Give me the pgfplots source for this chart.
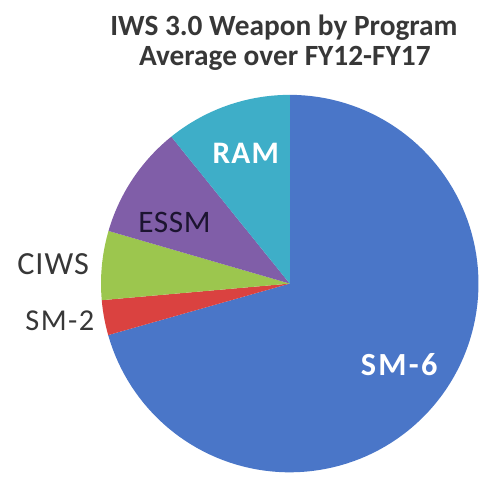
\documentclass[border=0pt]{standalone}
\usepackage{fontspec}
\setmainfont{Carlito}
\usepackage{pgfplots}
\usepackage{pgfplotstable}
\pgfplotsset{compat=1.18}

\definecolor{csmsix}{RGB}{74,118,200}
\definecolor{csmtwo}{RGB}{218,66,64}
\definecolor{cciws}{RGB}{156,198,78}
\definecolor{cessm}{RGB}{128,94,168}
\definecolor{cram}{RGB}{62,174,200}
\definecolor{ctitle}{RGB}{55,55,55}

\pgfplotstableread{
program share
SM-6 70.6
SM-2 3.0
CIWS 5.9
ESSM 9.7
RAM 10.8
}\piedata

\begin{document}
\pgfplotstablegetelem{0}{share}\of\piedata\pgfmathsetmacro\bA{90-3.6*\pgfplotsretval}
\pgfplotstablegetelem{1}{share}\of\piedata\pgfmathsetmacro\bB{\bA-3.6*\pgfplotsretval}
\pgfplotstablegetelem{2}{share}\of\piedata\pgfmathsetmacro\bC{\bB-3.6*\pgfplotsretval}
\pgfplotstablegetelem{3}{share}\of\piedata\pgfmathsetmacro\bD{\bC-3.6*\pgfplotsretval}
\pgfplotstablegetelem{4}{share}\of\piedata\pgfmathsetmacro\bE{\bD-3.6*\pgfplotsretval}
\begin{tikzpicture}
\path (0pt,0pt) rectangle (500pt,490pt);
\node[font=\fontsize{30}{32}\selectfont\bfseries, text=ctitle] at (279pt,462pt) {IWS 3.0 Weapon by Program};
\node[font=\fontsize{30}{32}\selectfont\bfseries, text=ctitle] at (280pt,430pt) {Average over FY12-FY17};
\begin{axis}[
  at={(285pt,200pt)}, anchor=center,
  scale only axis, width=386pt, height=386pt,
  xmin=-1, xmax=1, ymin=-1, ymax=1,
  hide axis, clip=false,
]
\addplot[fill=csmsix, draw=none, domain=\bA:90, samples=120, variable=\t] ({cos(\t)},{sin(\t)}) -- (axis cs:0,0) -- cycle;
\addplot[fill=csmtwo, draw=none, domain=\bB:\bA, samples=20, variable=\t] ({cos(\t)},{sin(\t)}) -- (axis cs:0,0) -- cycle;
\addplot[fill=cciws, draw=none, domain=\bC:\bB, samples=30, variable=\t] ({cos(\t)},{sin(\t)}) -- (axis cs:0,0) -- cycle;
\addplot[fill=cessm, draw=none, domain=\bD:\bC, samples=40, variable=\t] ({cos(\t)},{sin(\t)}) -- (axis cs:0,0) -- cycle;
\addplot[fill=cram, draw=none, domain=\bE:\bD, samples=40, variable=\t] ({cos(\t)},{sin(\t)}) -- (axis cs:0,0) -- cycle;

\node[font=\fontsize{32}{34}\selectfont\bfseries\addfontfeature{LetterSpace=4}, text=white] at (axis cs:-0.233,0.689) {RAM};
\node[font=\fontsize{32}{34}\selectfont\addfontfeature{LetterSpace=2}, text={rgb,255:red,28;green,20;blue,48}] at (axis cs:-0.611,0.326) {ESSM};
\node[font=\fontsize{33}{35}\selectfont\addfontfeature{LetterSpace=3}, text=ctitle] at (axis cs:-1.254,0.104) {CIWS};
\node[font=\fontsize{31}{33}\selectfont\addfontfeature{LetterSpace=5}, text=ctitle] at (axis cs:-1.218,-0.197) {SM-2};
\node[font=\fontsize{33}{35}\selectfont\bfseries\addfontfeature{LetterSpace=7}, text=white] at (axis cs:0.580,-0.430) {SM-6};
\end{axis}
\end{tikzpicture}
\end{document}
